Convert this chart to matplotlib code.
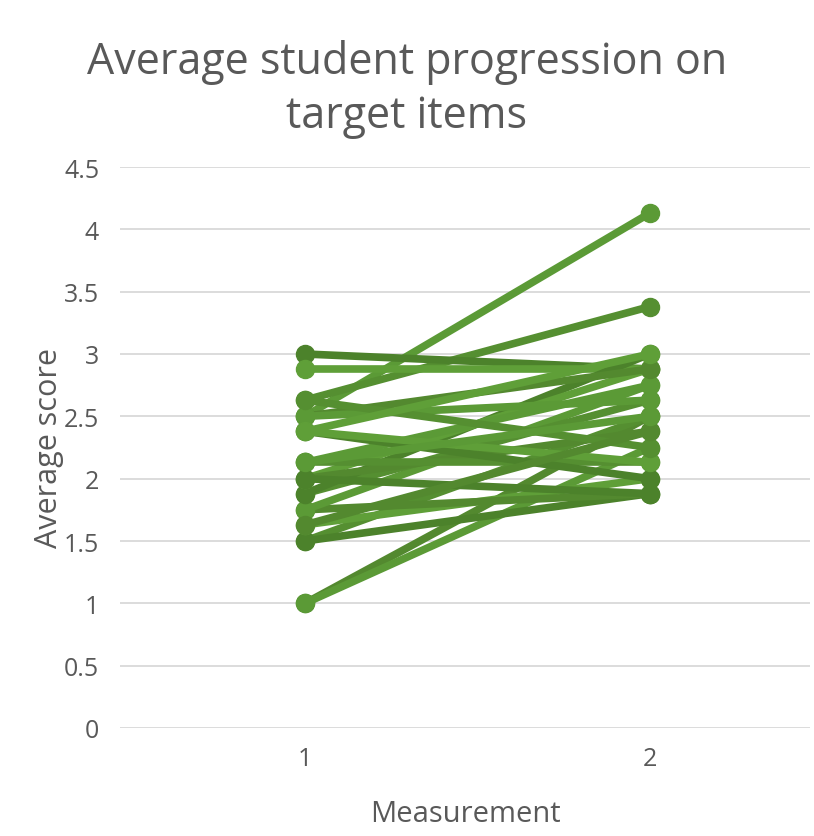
import numpy as np
import matplotlib.pyplot as plt

# average score per student at the two measurements
measurement = [1, 2]
score_first = [2.5, 2.63, 3.0, 2.88, 1.0, 1.0, 1.5, 1.5, 1.63, 1.75, 1.75, 1.88,
               1.88, 2.0, 2.0, 2.13, 2.13, 2.38, 2.38, 2.5, 2.5, 2.63, 2.0, 2.38,
               1.63, 2.13]
score_second = [4.13, 3.38, 2.88, 2.88, 2.5, 2.25, 2.5, 1.88, 2.0, 1.88, 2.75, 2.63,
                3.0, 2.88, 2.38, 2.75, 2.13, 2.0, 2.13, 2.88, 2.63, 2.25, 1.88, 3.0,
                2.38, 2.5]

greens = ["#5b9a36", "#558f31", "#4c822b", "#5f9f38", "#53892f"]

plt.rcParams['font.family'] = ['Open Sans', 'DejaVu Sans']
fig = plt.figure(figsize=(8.14, 8.37), dpi=100)
ax = fig.add_axes([120 / 814, 108 / 837, (810 - 120) / 814, (729 - 168) / 837])

for i in range(len(score_first)):
    ax.plot(measurement, [score_first[i], score_second[i]], '-o',
            color=greens[i % len(greens)], lw=5.5, markersize=13, solid_capstyle='round')

ax.set_xlim(0.464, 2.464)
ax.set_ylim(0, 4.5)
ax.set_xticks(measurement)
ax.set_yticks(np.arange(0, 4.51, 0.5))
ax.set_yticklabels(['0', '0.5', '1', '1.5', '2', '2.5', '3', '3.5', '4', '4.5'])
ax.yaxis.grid(True, color='#d9d9d9', lw=1.3)
ax.set_axisbelow(True)
for s in ax.spines.values():
    s.set_visible(False)
ax.tick_params(length=0, labelsize=18, colors='#595959')
ax.tick_params(axis='y', pad=15)
ax.tick_params(axis='x', pad=13)

ax.set_xlabel('Measurement', fontsize=21, color='#595959', labelpad=20)
ax.set_ylabel('Average score', fontsize=22, color='#595959', labelpad=0)

fig.text(0.5, 0.893, 'Average student progression on\ntarget items', ha='center',
         va='center', fontsize=31, color='#595959', linespacing=1.3)

fig.savefig('out.png', dpi=100)
